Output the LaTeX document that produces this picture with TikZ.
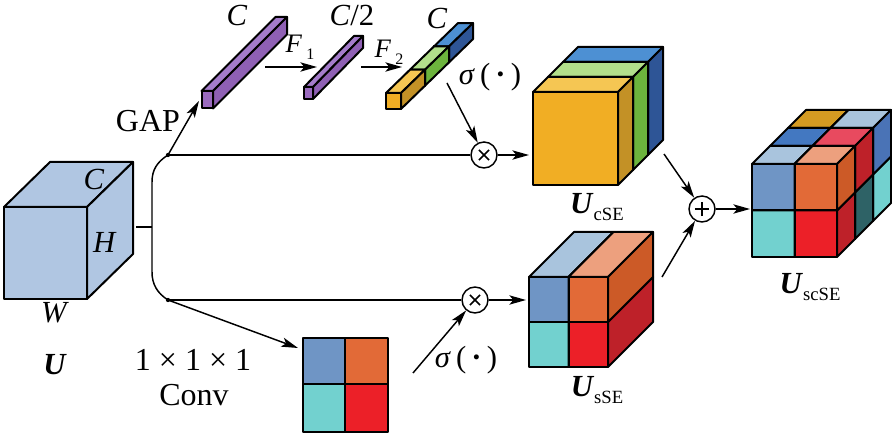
\documentclass[tikz,border=0pt]{standalone}
\usepackage{fontspec}
\setmainfont{Liberation Serif}
\usetikzlibrary{arrows.meta,calc}
\definecolor{ublue}{HTML}{B0C6E2}
\definecolor{purF}{HTML}{9B6BBF}
\definecolor{purT}{HTML}{A57CCB}
\definecolor{purS}{HTML}{8F60B4}
\definecolor{orF}{HTML}{F1AE24}
\definecolor{orT}{HTML}{F5C653}
\definecolor{orS}{HTML}{C39126}
\definecolor{grT}{HTML}{B2DF8B}
\definecolor{grS}{HTML}{6CB43D}
\definecolor{blT}{HTML}{4D90D3}
\definecolor{blS}{HTML}{2E5596}
\definecolor{cTL}{HTML}{6F95C5}
\definecolor{cTR}{HTML}{E26A37}
\definecolor{cBL}{HTML}{72D1CF}
\definecolor{cBR}{HTML}{EC2028}
\definecolor{tLB}{HTML}{A9C4DD}
\definecolor{tSal}{HTML}{EDA07E}
\definecolor{tBlu}{HTML}{4378C1}
\definecolor{tPink}{HTML}{E84A5F}
\definecolor{tGold}{HTML}{D49B22}
\definecolor{sDO}{HTML}{CC5A27}
\definecolor{sDR}{HTML}{BE2129}
\definecolor{sTeal}{HTML}{2E6266}
\definecolor{sBlu}{HTML}{4A73B6}
% x1 y1 x2 y2 dx dy front top side
\newcommand{\mycuboid}[9]{%
  \filldraw[face,fill=#7] (#1,#2) rectangle (#3,#4);
  \filldraw[face,fill=#8] (#1,#2) -- (#3,#2) -- ++(#5,#6) -- ($(#1,#2)+(#5,#6)$) -- cycle;
  \filldraw[face,fill=#9] (#3,#2) -- (#3,#4) -- ++(#5,#6) -- ($(#3,#2)+(#5,#6)$) -- cycle;}
% x y front top side  (cubelet of the scSE block)
\newcommand{\mycubelet}[5]{\mycuboid{#1}{#2}{#1+42.5}{#2+46.5}{18}{-18}{#3}{#4}{#5}}
\tikzset{
  face/.style={draw=black,line width=1.5pt,line join=round},
  conn/.style={line width=1.1pt},
  arr/.style={line width=1.1pt,-{Stealth[length=12.5pt,width=7pt,inset=3pt]}},
  opnode/.style={circle,draw,line width=1.1pt,minimum size=19.5pt,inner sep=0pt,fill=white},
  timesop/.style={opnode,path picture={
     \draw[line width=1.1pt] ([shift={(-3.8pt,-3.8pt)}]path picture bounding box.center) -- ([shift={(3.8pt,3.8pt)}]path picture bounding box.center);
     \draw[line width=1.1pt] ([shift={(-3.8pt,3.8pt)}]path picture bounding box.center) -- ([shift={(3.8pt,-3.8pt)}]path picture bounding box.center);}},
  plusop/.style={opnode,path picture={
     \draw[line width=1.1pt] ([shift={(-5.4pt,0pt)}]path picture bounding box.center) -- ([shift={(5.4pt,0pt)}]path picture bounding box.center);
     \draw[line width=1.1pt] ([shift={(0pt,-5.4pt)}]path picture bounding box.center) -- ([shift={(0pt,5.4pt)}]path picture bounding box.center);}},
  lab/.style={font=\fontsize{24}{27}\selectfont,inner sep=0pt},
  ilab/.style={font=\fontsize{23}{26}\selectfont,inner sep=0pt},
  flab/.style={font=\fontsize{20}{23}\selectfont,inner sep=0pt}
}
\newcommand{\subx}[1]{\raisebox{-5.5pt}{\fontsize{14}{14}\selectfont #1}}
\newcommand{\subf}[1]{\raisebox{-5pt}{\fontsize{12}{12}\selectfont #1}}
\begin{document}
\begin{tikzpicture}[x=0.75pt,y=-0.75pt]
\fill[white] (0,0) rectangle (892,434);
\useasboundingbox (0,0) rectangle (892,434);

% ---- input cube U
\mycuboid{4}{207}{87}{299}{46}{-45}{ublue}{ublue}{ublue}
\node[ilab] (lC) at (94,179) {\textit{C}};
\node[ilab] (lH) at (105,242) {\textit{H}};
\node[ilab] (lW) at (55,313) {\textit{W}};
\node[ilab] (lU) at (55,365) {\textbf{\textit{U}}};

% ---- bars
\mycuboid{201.5}{91}{213}{108.5}{74}{-74}{purF}{purT}{purS}
\mycuboid{304}{87}{313}{99}{50}{-51}{purF}{purT}{purS}
\mycuboid{434}{46.4}{449}{62.4}{24}{-23.3}{blS}{blT}{blS}
\mycuboid{410}{69.7}{425}{85.7}{24}{-23.3}{grS}{grT}{grS}
\mycuboid{386}{93}{401}{109}{24}{-23.3}{orF}{orT}{orS}
\node[ilab] (lc1) at (237,15) {\textit{C}};
\node[ilab] (lc2) at (352,16) {\textit{C}/2};
\node[ilab] (lc3) at (437,18) {\textit{C}};
\node[flab] (lf1) at (300,47) {\textit{F}\,\subf{1}};
\node[flab] (lf2) at (389,52) {\textit{F}\,\subf{2}};
\node[ilab] (lsig1) at (490,77) {\textit{σ}\,(\,\textbf{·}\,)};
\node[lab] (lgap) at (148,121) {GAP};

% ---- U_cSE
\mycuboid{563}{62}{648}{155}{15}{-15}{blS}{blT}{blS}
\mycuboid{548}{77}{633}{170}{15}{-15}{grS}{grT}{grS}
\mycuboid{533}{92}{618}{185}{15}{-15}{orF}{orT}{orS}
\node[ilab] (lcse) at (597,207) {\textbf{\textit{U}}\subx{cSE}};

% ---- U_sSE
\mycuboid{529}{322}{568.5}{367}{45}{-45}{cBL}{cBL}{cBL}
\mycuboid{568.5}{322}{608}{367}{45}{-45}{cBR}{cBR}{sDR}
\mycuboid{529}{277}{568.5}{322}{45}{-45}{cTL}{tLB}{cTL}
\mycuboid{568.5}{277}{608}{322}{45}{-45}{cTR}{tSal}{sDO}
\node[ilab] (lsse) at (597,390) {\textbf{\textit{U}}\subx{sSE}};

% ---- U_scSE  (back layer first)
\mycubelet{788}{174.5}{cBL}{cBL}{cBL}
\mycubelet{830.5}{174.5}{cBL}{cBL}{cBL}
\mycubelet{788}{128}{tGold}{tGold}{tGold}
\mycubelet{830.5}{128}{sBlu}{tLB}{sBlu}
\mycubelet{770}{192.5}{sTeal}{sTeal}{sTeal}
\mycubelet{812.5}{192.5}{sTeal}{sTeal}{sTeal}
\mycubelet{770}{146}{tBlu}{tBlu}{tBlu}
\mycubelet{812.5}{146}{sDR}{tPink}{sDR}
\mycubelet{752}{210.5}{cBL}{cBL}{cBL}
\mycubelet{794.5}{210.5}{cBR}{cBR}{sDR}
\mycubelet{752}{164}{cTL}{tLB}{cTL}
\mycubelet{794.5}{164}{cTR}{tSal}{sDO}
\node[ilab] (lscse) at (810,287) {\textbf{\textit{U}}\subx{scSE}};

% ---- conv map
\filldraw[face,fill=cTL] (303,338) rectangle (345,384);
\filldraw[face,fill=cTR] (345,338) rectangle (388,384);
\filldraw[face,fill=cBL] (303,384) rectangle (345,432);
\filldraw[face,fill=cBR] (345,384) rectangle (388,432);
\node[lab] (lk) at (193,360) {1 × 1 × 1};
\node[lab] (lconv) at (194,395) {Conv};
\node[ilab] (lsig2) at (466,360) {\textit{σ}\,(\,\textbf{·}\,)};

% ---- connection points
\coordinate (uout) at (136,227);
\coordinate (bmid) at (152,227);
\coordinate (b1) at (168,155);
\coordinate (b2) at (168,300);
\coordinate (bar1in) at (199,101);
\coordinate (f1s) at (265,67);
\coordinate (f1e) at (317,67);
\coordinate (f2s) at (361,67);
\coordinate (f2e) at (402,67);
\coordinate (sig1) at (447,83);
\coordinate (csein) at (529,155);
\coordinate (cseout) at (664,154);
\coordinate (ssein) at (526,300);
\coordinate (sseout) at (662,277);
\coordinate (scsein) at (750,209);
\coordinate (convin) at (298,348);
\coordinate (sig2) at (413,373);
\node[timesop] (m1) at (484,155) {};
\node[timesop] (m2) at (475,300) {};
\node[plusop] (a1) at (702,209) {};

% ---- connectors
\draw[conn] (uout) -- (bmid);
\draw[conn] (b1) .. controls (157,162) and (152,170) .. (152,182) -- (bmid)
   -- (152,272) .. controls (152,284) and (157,293) .. (b2);
\draw[conn] (b1) -- (m1);
\draw[conn] (b2) -- (m2);
\draw[arr] (b1) -- (bar1in);
\draw[arr] (f1s) -- (f1e);
\draw[arr] (f2s) -- (f2e);
\draw[arr] (sig1) -- (m1);
\draw[arr] (m1) -- (csein);
\draw[arr] (b2) -- (convin);
\draw[arr] (sig2) -- (m2);
\draw[arr] (m2) -- (ssein);
\draw[arr] (cseout) -- (a1);
\draw[arr] (sseout) -- (a1);
\draw[arr] (a1) -- (scsein);
\fill (b1) circle (1.6pt);
\fill (b2) circle (1.6pt);
\end{tikzpicture}
\end{document}
